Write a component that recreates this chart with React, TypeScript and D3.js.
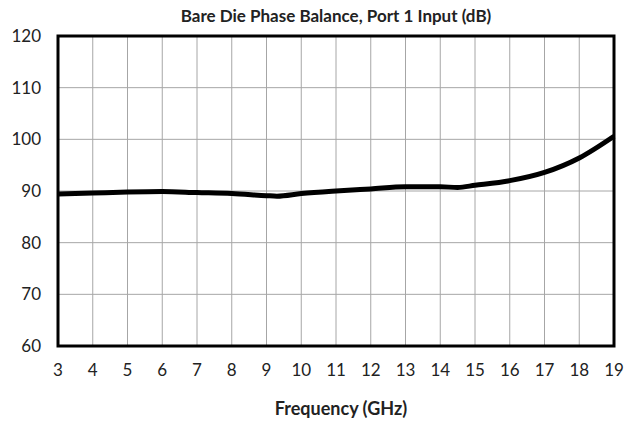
import React from 'react';
import * as d3 from 'd3';

const freqs = [3, 4, 5, 6, 7, 8, 9, 9.3, 10, 11, 12, 13, 14, 14.5, 15, 16, 17, 18, 19];
const balance = [89.4, 89.6, 89.8, 89.9, 89.7, 89.5, 89.1, 89.0, 89.5, 90.0, 90.4, 90.8, 90.8, 90.7, 91.1, 92.0, 93.6, 96.4, 100.6];
const xTicks = d3.range(3, 20);
const yTicks = [60, 70, 80, 90, 100, 110, 120];

const W = 630;
const H = 421;
const m = { left: 58, right: 16, top: 36, bottom: 75 };
const font = 'Lato, "Open Sans", sans-serif';

const App = () => {
  const x = d3.scaleLinear().domain([3, 19]).range([m.left, W - m.right]);
  const y = d3.scaleLinear().domain([60, 120]).range([H - m.bottom, m.top]);

  const pts: [number, number][] = freqs.map((f, i) => [f, balance[i]]);
  const line = d3.line<[number, number]>()
    .x(d => x(d[0]))
    .y(d => y(d[1]))
    .curve(d3.curveMonotoneX);

  return (
    <svg width={W} height={H} style={{ position: 'absolute', left: 0, top: 0, background: '#fff' }}>
      {/* grid */}
      {xTicks.map(t => (
        <line key={'gx' + t} x1={x(t)} x2={x(t)} y1={y(60)} y2={y(120)} stroke="#a6a6a6" strokeWidth={1} />
      ))}
      {yTicks.map(t => (
        <line key={'gy' + t} x1={x(3)} x2={x(19)} y1={y(t)} y2={y(t)} stroke="#a6a6a6" strokeWidth={1} />
      ))}

      <path d={line(pts) || ''} fill="none" stroke="#000" strokeWidth={5} strokeLinejoin="round" />

      {/* frame */}
      <rect x={x(3)} y={y(120)} width={x(19) - x(3)} height={y(60) - y(120)} fill="none" stroke="#000" strokeWidth={3} />

      {/* tick labels */}
      {yTicks.map(t => (
        <text key={'ly' + t} x={x(3) - 17} y={y(t)} dy="0.35em" textAnchor="end" fontFamily={font} fontSize={17} fill="#222">
          {t}
        </text>
      ))}
      {xTicks.map(t => (
        <text key={'lx' + t} x={x(t)} y={y(60) + 30} textAnchor="middle" fontFamily={font} fontSize={17} fill="#222">
          {t}
        </text>
      ))}

      <text x={336} y={22} textAnchor="middle" fontFamily={font} fontSize={17} fontWeight="bold" fill="#222">
        Bare Die Phase Balance, Port 1 Input (dB)
      </text>
      <text x={341} y={415} textAnchor="middle" fontFamily={font} fontSize={18} fontWeight="bold" fill="#222">
        Frequency (GHz)
      </text>
    </svg>
  );
};

export default App;
